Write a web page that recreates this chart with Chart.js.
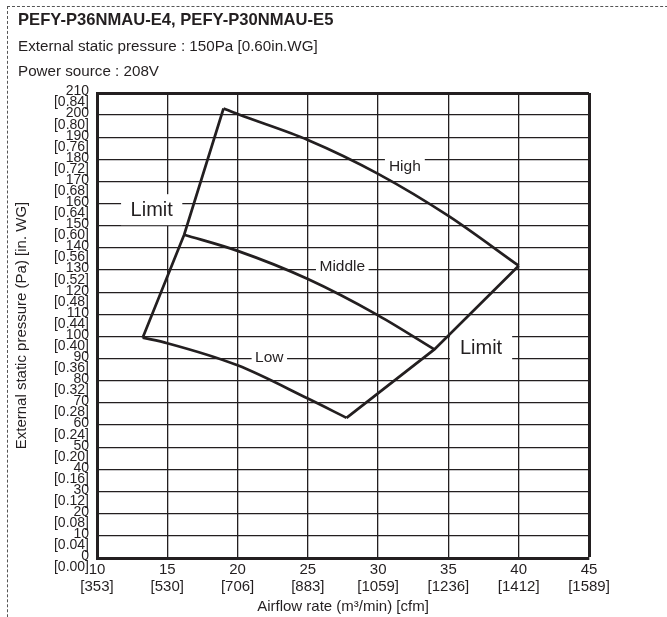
<!DOCTYPE html>
<html>
<head>
<meta charset="utf-8">
<title>PEFY fan curves</title>
<script src="https://cdn.jsdelivr.net/npm/chart.js@4.4.1/dist/chart.umd.min.js"></script>
<style>
  html, body { margin: 0; padding: 0; background: #fff; }
  #page { position: relative; width: 667px; height: 617px; overflow: hidden; }
  #frame {
    position: absolute; left: 7px; top: 6px; width: 700px; height: 700px;
    border-top: 1px dashed #555; border-left: 1px dashed #555;
  }
  #heading {
    position: absolute; left: 18px; top: 7px;
    line-height: 25.5px; color: #231f20;
    font-family: "Liberation Sans", Arial, sans-serif; font-size: 15.2px;
  }
  #heading b { font-size: 16.6px; }
  canvas { position: absolute; left: 0; top: 0; }
</style>
</head>
<body>
<div id="page">
  <div id="frame"></div>
  <canvas id="fan-chart" width="667" height="617"></canvas>
  <div id="heading">
    <b>PEFY-P36NMAU-E4, PEFY-P30NMAU-E5</b><br>
    External static pressure : 150Pa [0.60in.WG]<br>
    Power source : 208V
  </div>
</div>
<script>
// axis ticks: airflow m3/min with cfm, pressure Pa with in.WG
const airflowTicks = [10, 15, 20, 25, 30, 35, 40, 45];
const airflowCfm = ["353", "530", "706", "883", "1059", "1236", "1412", "1589"];
const pressureTicks = [0, 10, 20, 30, 40, 50, 60, 70, 80, 90, 100,
  110, 120, 130, 140, 150, 160, 170, 180, 190, 200, 210];
const pressureWg = ["0.00", "0.04", "0.08", "0.12", "0.16", "0.20", "0.24", "0.28",
  "0.32", "0.36", "0.40", "0.44", "0.48", "0.52", "0.56", "0.60", "0.64", "0.68",
  "0.72", "0.76", "0.80", "0.84"];

// fan speed curves (airflow, pressure)
const highX = [19, 20, 25, 30, 35, 40];
const highY = [203, 200.5, 188.8, 173.5, 154.5, 132];
const middleX = [16.2, 20, 25, 30, 34];
const middleY = [146, 138.7, 126, 109.6, 94.2];
const lowX = [13.25, 15, 20, 25, 27.75];
const lowY = [99.5, 97, 87, 72, 63.3];

// operating limits joining the curve ends
const limitLeftX = [13.25, 16.2, 19];
const limitLeftY = [99.5, 146, 203];
const limitRightX = [27.75, 34, 40];
const limitRightY = [63.3, 94.2, 132];

const ink = "#231f20";
const fontFamily = '"Liberation Sans", Arial, sans-serif';

const toPoints = (xs, ys) => xs.map((x, i) => ({ x, y: ys[i] }));

function line(xs, ys, curved) {
  return {
    data: toPoints(xs, ys),
    showLine: true,
    borderColor: ink,
    borderWidth: 2.7,
    pointRadius: 0,
    cubicInterpolationMode: curved ? "monotone" : "default",
    tension: 0,
  };
}

// text tags sitting on the grid, with a white patch behind them
const tags = [
  { text: "High", x: 31.9, y: 177.3, size: 15.5, padX: 4, padY: 1 },
  { text: "Middle", x: 27.45, y: 132, size: 15.5, padX: 3.5, padY: 1 },
  { text: "Low", x: 22.26, y: 90.8, size: 15.5, padX: 3.5, padY: 1 },
  { text: "Limit", x: 13.89, y: 157.3, size: 20, padX: 9.5, padY: 5.5 },
  { text: "Limit", x: 37.32, y: 95.2, size: 20, padX: 10, padY: 4 },
];

const tagPlugin = {
  id: "tags",
  beforeDatasetsDraw(chart) {
    const { ctx, scales: { x, y } } = chart;
    ctx.save();
    ctx.textAlign = "center";
    ctx.textBaseline = "middle";
    tags.forEach((t) => {
      ctx.font = `${t.size}px ${fontFamily}`;
      const px = x.getPixelForValue(t.x);
      const py = y.getPixelForValue(t.y);
      const w = ctx.measureText(t.text).width + t.padX * 2;
      const h = t.size + t.padY * 2;
      ctx.fillStyle = "#fff";
      ctx.fillRect(px - w / 2, py - h / 2, w, h);
      ctx.fillStyle = ink;
      ctx.fillText(t.text, px, py + 1);
    });
    ctx.restore();
  },
};

new Chart(document.getElementById("fan-chart"), {
  type: "scatter",
  data: {
    datasets: [
      line(highX, highY, true),
      line(middleX, middleY, true),
      line(lowX, lowY, true),
      line(limitLeftX, limitLeftY, false),
      line(limitRightX, limitRightY, false),
    ],
  },
  options: {
    responsive: false,
    animation: false,
    layout: { padding: { top: 93, right: 78, bottom: 1, left: 8 } },
    plugins: { legend: { display: false }, tooltip: { enabled: false } },
    scales: {
      x: {
        type: "linear",
        min: 10,
        max: 45,
        border: { display: true, width: 3, color: ink },
        grid: {
          color: ink,
          lineWidth: (c) => (c.tick && c.tick.value === 45 ? 3 : 1.3),
          drawTicks: false,
        },
        ticks: {
          stepSize: 5,
          autoSkip: false,
          maxRotation: 0,
          padding: 4,
          color: ink,
          font: { family: fontFamily, size: 15, lineHeight: 1.1 },
          callback: (v) => {
            const i = airflowTicks.indexOf(v);
            return i < 0 ? "" : [String(v), "[" + airflowCfm[i] + "]"];
          },
        },
        title: {
          display: true,
          text: "Airflow rate (m³/min) [cfm]",
          color: ink,
          font: { family: fontFamily, size: 15, lineHeight: 1 },
          padding: { top: 0, bottom: 2 },
        },
      },
      y: {
        type: "linear",
        min: 0,
        max: 210,
        afterFit: (scale) => { scale.width = 89; },
        border: { display: true, width: 3, color: ink },
        grid: {
          color: ink,
          lineWidth: (c) => (c.tick && c.tick.value === 210 ? 3 : 1.3),
          drawTicks: false,
        },
        ticks: {
          stepSize: 10,
          autoSkip: false,
          padding: 8,
          labelOffset: 4,
          color: ink,
          font: { family: fontFamily, size: 14, lineHeight: 0.8 },
          callback: (v) => {
            const i = pressureTicks.indexOf(v);
            return i < 0 ? "" : [String(v), "[" + pressureWg[i] + "]"];
          },
        },
        title: {
          display: true,
          text: "External static pressure (Pa) [in. WG]",
          color: ink,
          font: { family: fontFamily, size: 15, lineHeight: 1 },
          padding: { top: 6, bottom: 0 },
        },
      },
    },
  },
  plugins: [tagPlugin],
});
</script>
</body>
</html>
